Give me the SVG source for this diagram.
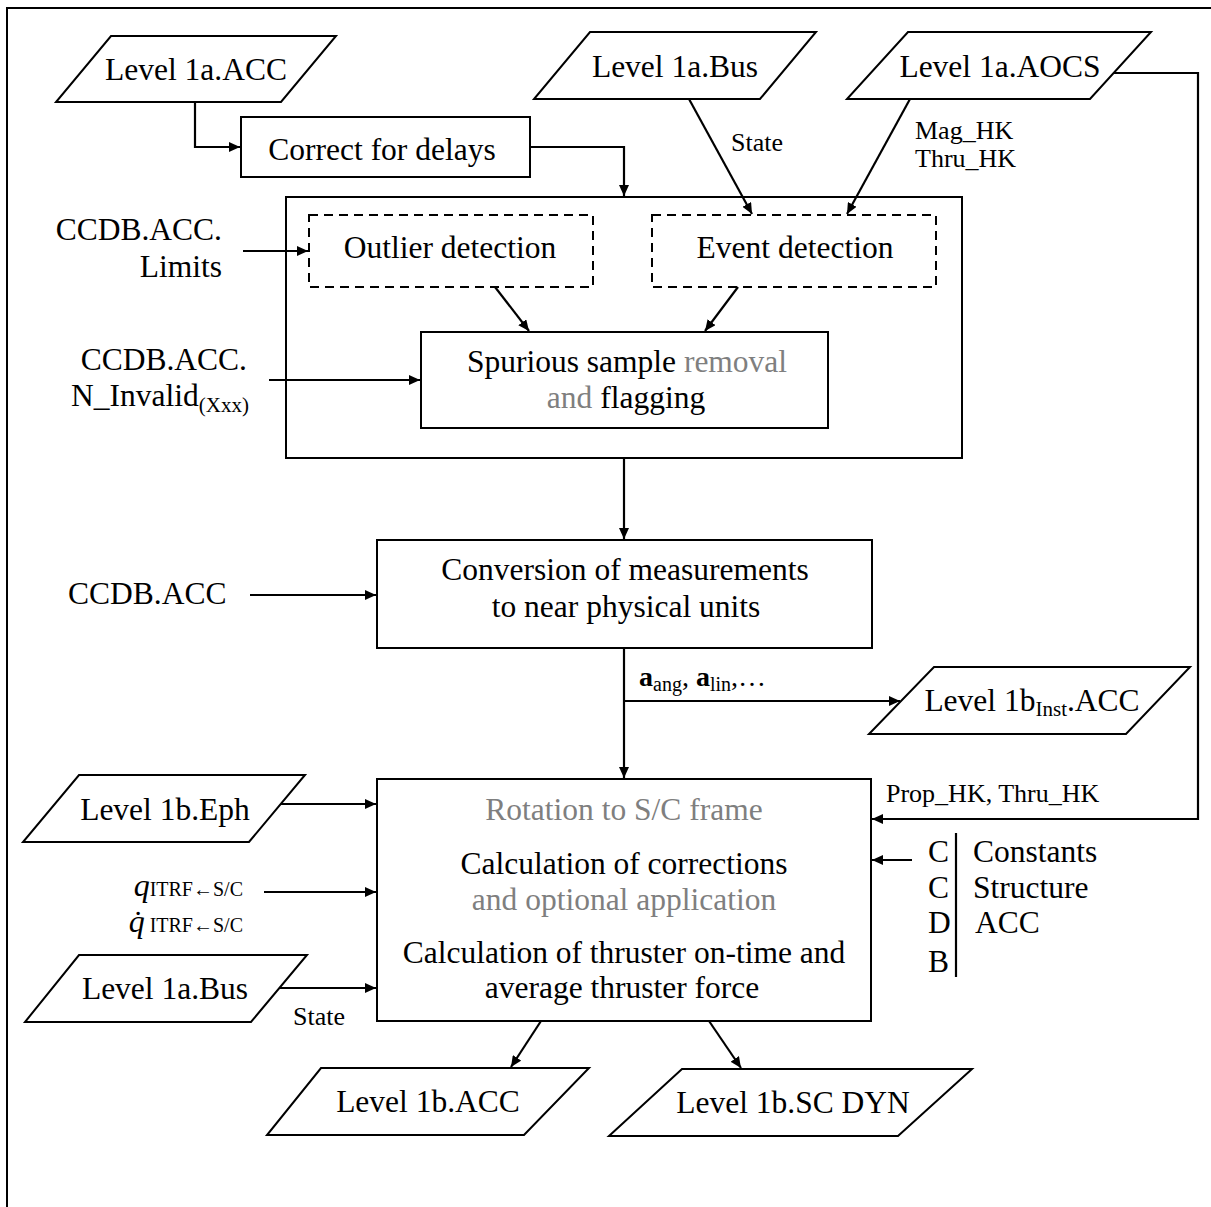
<svg xmlns="http://www.w3.org/2000/svg" width="1211" height="1207" viewBox="0 0 1211 1207">
<defs>
<marker id="ah" markerUnits="userSpaceOnUse" markerWidth="12" markerHeight="10" refX="11" refY="5" orient="auto">
<path d="M0,0 L11,5 L0,10 z" fill="#000"/>
</marker>
<style>
text{font-family:"Liberation Serif","Times New Roman",serif;fill:#000}
.m{font-size:31.5px}
.c{text-anchor:middle}
.e{text-anchor:end}
.s{font-size:26px}
.g{fill:#7f7f7f}
.box{fill:#fff;stroke:#000;stroke-width:2}
.dash{fill:none;stroke:#000;stroke-width:2;stroke-dasharray:9,6}
.ln{fill:none;stroke:#000;stroke-width:2.2}
.ar{fill:none;stroke:#000;stroke-width:2.2;marker-end:url(#ah)}
</style>
</defs>
<rect x="7" y="8" width="1215" height="1215" fill="#fff" stroke="#000" stroke-width="2"/>

<g id="container">
<rect class="box" x="286" y="197" width="676" height="261"/>
</g>
<g id="level1a-acc">
<polygon class="box" points="111,36 336,36 281,102 56,102"/>
<text class="m c" x="196" y="80">Level 1a.ACC</text>
</g>
<g id="level1a-bus-top">
<polygon class="box" points="590,32 816,32 760,99 534,99"/>
<text class="m c" x="675" y="77">Level 1a.Bus</text>
</g>
<g id="level1a-aocs">
<polygon class="box" points="908,32 1151,32 1090,99 847,99"/>
<text class="m c" x="1000" y="77">Level 1a.AOCS</text>
</g>
<g id="correct-delays">
<rect class="box" x="241" y="117" width="289" height="60"/>
<text class="m c" x="382" y="160">Correct for delays</text>
</g>
<g id="outlier">
<rect class="dash" x="309" y="215" width="284" height="72"/>
<text class="m c" x="450" y="258">Outlier  detection</text>
</g>
<g id="event">
<rect class="dash" x="652" y="215" width="284" height="72"/>
<text class="m c" x="795" y="258">Event detection</text>
</g>
<g id="spurious">
<rect class="box" x="421" y="332" width="407" height="96"/>
<text class="m c" x="627" y="372">Spurious  sample <tspan class="g">removal</tspan></text>
<text class="m c" x="626" y="408"><tspan class="g">and</tspan> flagging</text>
</g>
<g id="ccdb-limits">
<text class="m e" x="222" y="240">CCDB.ACC.</text>
<text class="m e" x="222" y="277">Limits</text>
</g>
<g id="ccdb-ninvalid">
<text class="m e" x="247" y="370">CCDB.ACC.</text>
<text class="m e" x="249" y="406">N_Invalid<tspan font-size="21" dy="6">(Xxx)</tspan></text>
</g>
<g id="conversion">
<rect class="box" x="377" y="540" width="495" height="108"/>
<text class="m c" x="625" y="580">Conversion  of measurements</text>
<text class="m c" x="626" y="617">to near physical  units</text>
</g>
<g id="ccdb-acc">
<text class="m" x="68" y="604">CCDB.ACC</text>
</g>
<g id="level1b-inst-acc">
<polygon class="box" points="934,667 1190,667 1126,734 869,734"/>
<text class="m c" x="1032" y="711">Level 1b<tspan font-size="21" dy="5">Inst</tspan><tspan dy="-5">.ACC</tspan></text>
</g>
<g id="level1b-eph">
<polygon class="box" points="79,775 305,775 249,842 23,842"/>
<text class="m c" x="165" y="820">Level 1b.Eph</text>
</g>
<g id="q-labels">
<text x="243" y="896" text-anchor="end"><tspan font-size="32" font-style="italic">q</tspan><tspan font-size="20">ITRF←S/C</tspan></text>
<text x="243" y="932" text-anchor="end"><tspan font-size="32" font-style="italic">q̇</tspan><tspan font-size="20"> ITRF←S/C</tspan></text>
</g>
<g id="level1a-bus-bottom">
<polygon class="box" points="79,955 307,955 251,1022 25,1022"/>
<text class="m c" x="165" y="999">Level 1a.Bus</text>
</g>
<g id="calculation">
<rect class="box" x="377" y="779" width="494" height="242"/>
<text class="m c g" x="624" y="820">Rotation to S/C frame</text>
<text class="m c" x="624" y="874">Calculation  of corrections</text>
<text class="m c g" x="624" y="910">and optional  application</text>
<text class="m c" x="624" y="963">Calculation  of thruster on-time  and</text>
<text class="m c" x="622" y="998">average thruster force</text>
</g>
<g id="ccdb-list">
<line class="ln" x1="956" y1="833" x2="956" y2="977"/>
<text class="m" x="928" y="862">C</text>
<text class="m" x="928" y="898">C</text>
<text class="m" x="928" y="933">D</text>
<text class="m" x="928" y="972">B</text>
<text class="m" x="973" y="862">Constants</text>
<text class="m" x="973" y="898">Structure</text>
<text class="m" x="975" y="933">ACC</text>
</g>
<g id="level1b-acc">
<polygon class="box" points="321,1068 589,1068 524,1135 267,1135"/>
<text class="m c" x="428" y="1112">Level 1b.ACC</text>
</g>
<g id="level1b-scdyn">
<polygon class="box" points="682,1069 972,1069 898,1136 609,1136"/>
<text class="m c" x="793" y="1113">Level 1b.SC DYN</text>
</g>

<g id="connectors">
<polyline class="ar" points="195,102 195,147 240,147"/>
<polyline class="ar" points="530,147 624,147 624,196"/>
<line class="ar" x1="689" y1="99" x2="752" y2="214"/>
<line class="ar" x1="910" y1="99" x2="847" y2="214"/>
<line class="ar" x1="243" y1="251" x2="308" y2="251"/>
<line class="ar" x1="495" y1="287" x2="529" y2="331"/>
<line class="ar" x1="738" y1="287" x2="705" y2="331"/>
<line class="ar" x1="269" y1="380" x2="420" y2="380"/>
<line class="ar" x1="624" y1="458" x2="624" y2="539"/>
<line class="ar" x1="250" y1="595" x2="376" y2="595"/>
<line class="ar" x1="624" y1="648" x2="624" y2="778"/>
<line class="ar" x1="624" y1="701" x2="900" y2="701"/>
<polyline class="ar" points="1114,73 1198,73 1198,819 872,819"/>
<line class="ar" x1="281" y1="804" x2="376" y2="804"/>
<line class="ar" x1="264" y1="892" x2="376" y2="892"/>
<line class="ar" x1="279" y1="988" x2="376" y2="988"/>
<line class="ar" x1="912" y1="860" x2="872" y2="860"/>
<line class="ar" x1="541" y1="1021" x2="511" y2="1067"/>
<line class="ar" x1="709" y1="1021" x2="741" y2="1068"/>
<text class="s" x="731" y="151">State</text>
<text class="s" x="915" y="139">Mag_HK</text>
<text class="s" x="915" y="167">Thru_HK</text>
<text class="s" x="886" y="802">Prop_HK, Thru_HK</text>
<text class="s" x="293" y="1025">State</text>
<text x="639" y="686" font-size="28"><tspan font-weight="bold">a</tspan><tspan font-size="20" dy="5">ang</tspan><tspan dy="-5">, </tspan><tspan font-weight="bold">a</tspan><tspan font-size="20" dy="5">lin</tspan><tspan dy="-5">,…</tspan></text>
</g>
</svg>
